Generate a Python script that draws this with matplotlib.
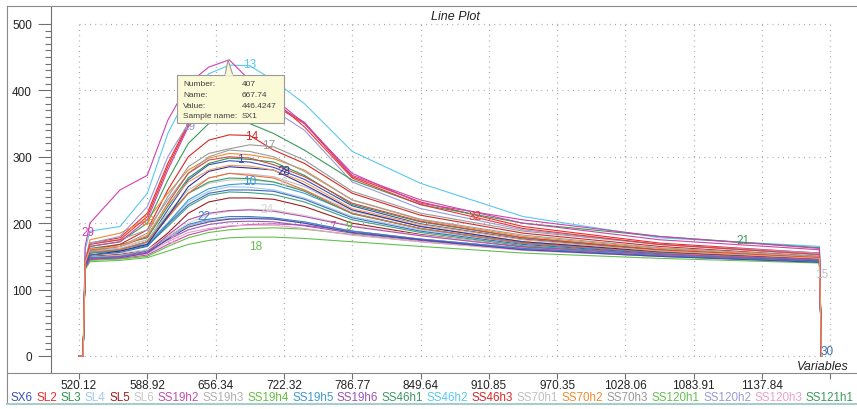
import matplotlib
matplotlib.use("Agg")
import matplotlib.pyplot as plt
from matplotlib.patches import Rectangle, Polygon
from matplotlib.ticker import FixedLocator

plt.rcParams['font.family'] = ['Liberation Sans', 'DejaVu Sans']

# variable index where each spectrum is sampled (first/last points sit at zero)
x_start = [0, 6]
x_idx = [9, 16, 60, 100, 130, 160, 190, 220, 250, 285, 330, 400, 500, 650, 850, 1084]
x_end = [1087]

# wavelength labels at every 100 variables
tick_idx = [0, 100, 200, 300, 400, 500, 600, 700, 800, 900, 1000, 1100]
tick_names = ["520.12", "588.92", "656.34", "722.32", "786.77", "849.64",
              "910.85", "970.35", "1028.06", "1083.91", "1137.84", ""]

c01 = [138, 155, 160, 172, 220, 265, 288, 294, 292, 284, 266, 226, 199, 176, 159, 146]
c02 = [140, 170, 178, 215, 290, 350, 380, 395, 392, 378, 350, 270, 232, 195, 170, 155]
c03 = [140, 162, 168, 178, 225, 268, 290, 298, 296, 292, 272, 228, 202, 178, 160, 147]
c04 = [140, 156, 160, 170, 200, 232, 248, 255, 254, 250, 238, 210, 190, 170, 155, 146]
c05 = [135, 150, 153, 160, 185, 215, 232, 238, 238, 236, 225, 200, 183, 165, 152, 142]
c06 = [142, 160, 165, 175, 210, 245, 260, 265, 265, 262, 250, 218, 195, 172, 158, 148]
c07 = [132, 145, 147, 152, 168, 182, 190, 195, 198, 199, 197, 188, 176, 162, 152, 144]
c08 = [136, 149, 152, 158, 178, 196, 204, 207, 208, 207, 200, 188, 176, 162, 152, 144]
c09 = [132, 144, 146, 150, 165, 178, 186, 190, 192, 193, 191, 183, 172, 160, 150, 142]
c10 = [140, 158, 162, 168, 200, 235, 252, 258, 260, 258, 245, 215, 192, 170, 155, 145]
c11 = [134, 147, 150, 156, 175, 190, 198, 202, 203, 202, 196, 185, 174, 160, 151, 143]
c12 = [138, 156, 160, 172, 212, 245, 262, 268, 267, 262, 248, 214, 192, 170, 156, 146]
c13 = [160, 188, 195, 245, 335, 395, 425, 438, 437, 415, 380, 308, 260, 210, 178, 165]
c14 = [140, 160, 168, 190, 250, 300, 325, 333, 332, 310, 290, 245, 212, 185, 165, 150]
c15 = [140, 158, 162, 175, 215, 250, 268, 275, 274, 270, 255, 220, 196, 172, 158, 148]
c16 = [142, 175, 185, 205, 245, 280, 298, 305, 303, 297, 280, 235, 205, 180, 162, 148]
c17 = [138, 158, 165, 185, 240, 285, 305, 312, 318, 315, 295, 248, 215, 188, 168, 152]
c18 = [130, 142, 144, 148, 158, 168, 174, 178, 179, 179, 177, 172, 165, 155, 147, 140]
c19 = [145, 170, 180, 225, 300, 350, 375, 385, 382, 370, 340, 262, 222, 190, 168, 155]
c20 = [134, 146, 148, 154, 172, 186, 192, 196, 197, 197, 192, 182, 172, 159, 150, 142]
c21 = [140, 165, 172, 200, 265, 320, 350, 365, 350, 335, 310, 265, 228, 200, 180, 163]
c22 = [135, 148, 150, 158, 180, 198, 206, 210, 210, 208, 202, 188, 176, 162, 151, 142]
c23 = [133, 146, 148, 155, 176, 194, 202, 206, 207, 206, 200, 186, 175, 160, 150, 141]
c24 = [138, 152, 155, 160, 180, 200, 213, 218, 221, 220, 212, 196, 182, 166, 154, 146]
c25 = [145, 170, 175, 190, 235, 275, 300, 310, 308, 300, 278, 235, 206, 182, 163, 150]
c26 = [138, 156, 160, 172, 208, 245, 268, 275, 272, 268, 250, 215, 192, 170, 156, 144]
c27 = [138, 155, 158, 166, 195, 225, 242, 247, 246, 243, 232, 205, 186, 166, 153, 143]
c28 = [135, 152, 158, 168, 210, 255, 278, 285, 283, 280, 258, 220, 195, 172, 157, 146]
c29 = [165, 200, 250, 272, 355, 410, 435, 446, 415, 388, 350, 275, 230, 205, 180, 162]
c30 = [136, 152, 156, 165, 198, 228, 245, 250, 250, 248, 236, 208, 188, 168, 154, 143]
c31 = [133, 146, 149, 156, 182, 205, 215, 219, 220, 218, 210, 195, 181, 164, 153, 145]
c32 = [142, 168, 175, 210, 285, 348, 385, 402, 398, 385, 345, 268, 228, 192, 168, 153]
c33 = [138, 165, 172, 205, 280, 345, 378, 390, 388, 380, 352, 272, 235, 200, 175, 160]
c34 = [140, 160, 165, 180, 230, 275, 295, 300, 298, 288, 270, 230, 203, 178, 160, 148]
c35 = [141, 161, 165, 182, 228, 262, 280, 287, 286, 280, 262, 222, 198, 175, 158, 147]

series = [c01, c02, c03, c04, c05, c06, c07, c08, c09, c10, c11, c12, c13, c14, c15,
          c16, c17, c18, c19, c20, c21, c22, c23, c24, c25, c26, c27, c28, c29, c30,
          c31, c32, c33, c34, c35]

colors = ['#3c50b4', '#ee2b2b', '#2f9650', '#a5c8ec', '#a01e1e', '#c8c8c8', '#c050b0',
          '#b0b0b0', '#64c040', '#3c9ad2', '#9b55b4', '#3c9a64', '#5ac8f0', '#d62828',
          '#c0c0c0', '#f08c30', '#9a9a9a', '#64c050', '#9a9ad8', '#eaa0cc', '#3c9a5a',
          '#3a80d0', '#4a4aa8', '#d4d4d4', '#a0a0a0', '#f06a3a', '#40a080', '#30309a',
          '#d040b0', '#3a6ab8', '#b050a8', '#e83838', '#c84aa0', '#d04848', '#f0a060']

legend_names = ["SX6", "SL2", "SL3", "SL4", "SL5", "SL6", "SS19h2", "SS19h3", "SS19h4",
                "SS19h5", "SS19h6", "SS46h1", "SS46h2", "SS46h3", "SS70h1", "SS70h2",
                "SS70h3", "SS120h1", "SS120h2", "SS120h3", "SS121h1"]

# curve number labels drawn on the plot
lab_num = [13, 19, 14, 17, 1, 28, 10, 6, 16, 22, 24, 29, 20, 18, 7, 9, 32, 21, 15, 30]
lab_x = [250, 160, 253, 277, 236, 300, 250, 299, 100, 183, 275, 13, 138, 258, 372, 395, 580, 972, 1088, 1095]
lab_y = [440, 346, 331, 318, 297, 279, 264, 262, 203, 211, 221, 187, 176, 166, 196, 196, 211, 175, 123, 8]

# tooltip content
tip_keys = ["Number:", "Name:", "Value:", "Sample name:"]
tip_vals = ["407", "667.74", "446.4247", "SX1"]

W, H = 857, 410
fig = plt.figure(figsize=(W / 100, H / 100), dpi=100)
ax = fig.add_axes([51 / W, (H - 374) / H, (W - 51) / W, 367 / H])
ax.set_xlim(-41, 1139)
ax.set_ylim(-25.6, 527)

# dotted grid bounded to the data box
grid_kw = dict(color='#a8a8a8', lw=0.9, linestyles=(0, (0.8, 3.4)), zorder=0)
ax.hlines([0, 100, 200, 300, 400, 500], tick_idx[0], tick_idx[-1], **grid_kw)
ax.vlines(tick_idx, 0, 500, **grid_kw)

xs = x_start + x_idx + x_end
for vals, col in zip(series, colors):
    ax.plot(xs, [0, 0] + vals + [0], color=col, lw=0.8)

for n, lx, ly in zip(lab_num, lab_x, lab_y):
    ax.text(lx, ly, str(n), color=colors[n - 1], fontsize=8.5, ha='center', va='center')

for s in ['top', 'right', 'bottom']:
    ax.spines[s].set_visible(False)
ax.spines['left'].set_color('#707070')
ax.set_facecolor('white')

ax.set_yticks([0, 100, 200, 300, 400, 500])
ax.yaxis.set_minor_locator(FixedLocator(list(range(0, 501, 10))))
ax.tick_params(axis='y', which='major', length=9.4, width=0.8, color='#707070', pad=4.3,
               labelsize=8.5, labelcolor='#222222')
ax.tick_params(axis='y', which='minor', length=4.3, width=0.8, color='#707070')
ax.set_xticks(tick_idx)
ax.set_xticklabels(tick_names)
ax.tick_params(axis='x', length=4, width=0.8, color='#707070', pad=0.3,
               labelsize=8.5, labelcolor='#222222')

# overlay in pixel coordinates for frame, tooltip, titles and legend strip
ov = fig.add_axes([0, 0, 1, 1])
ov.set_xlim(0, W)
ov.set_ylim(H, 0)
ov.axis('off')

frame = '#8a8a8a'
ov.plot([7, W], [7, 7], color=frame, lw=0.8)
ov.plot([7, W], [374, 374], color=frame, lw=0.8)
ov.plot([7, 7], [7, 404], color=frame, lw=0.8)
ov.plot([7, W], [405, 405], color='#a8cccc', lw=1.5)

ov.text(455, 17, "Line Plot", fontsize=9, style='italic', ha='center', va='center', color='#222222')
ov.text(823, 367, "Variables", fontsize=9, style='italic', ha='center', va='center', color='#222222')

tip_bg = '#fafad6'
ov.add_patch(Polygon([(225, 76.5), (228, 61), (233, 76.5)], closed=True,
                     fc=tip_bg, ec='#9a9a9a', lw=0.8, zorder=5))
ov.add_patch(Rectangle((177, 76), 107, 48, fc=tip_bg, ec='#9a9a9a', lw=0.8, zorder=6))
ov.plot([225.6, 232.4], [76, 76], color=tip_bg, lw=1.2, zorder=7)
for i, (k, v) in enumerate(zip(tip_keys, tip_vals)):
    yy = 85 + i * 10.6
    ov.text(183, yy, k, fontsize=6, color='#404040', va='center', zorder=8)
    ov.text(242, yy, v, fontsize=6, color='#404040', va='center', zorder=8)

renderer = fig.canvas.get_renderer()
lx = 11
for name, col in zip(legend_names, colors):
    t = ov.text(lx, 398.5, name, fontsize=8.4, color=col, ha='left', va='center')
    lx += t.get_window_extent(renderer).width + 3.5

fig.savefig("out.png", dpi=100)
